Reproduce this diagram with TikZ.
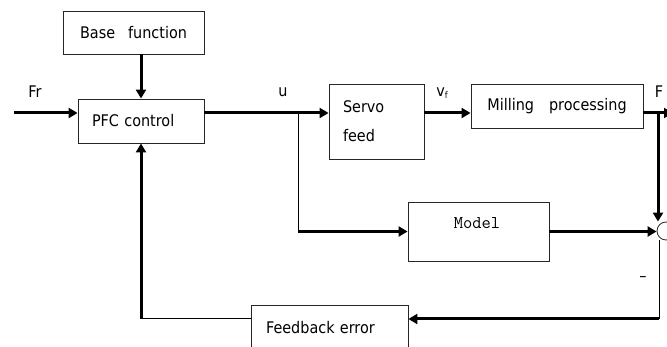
\documentclass[tikz,border=0pt]{standalone}
\usepackage{fontspec}
\setmainfont{DejaVu Sans}[FakeStretch=0.9]
\usetikzlibrary{arrows.meta}

\begin{document}
\begin{tikzpicture}[x=1pt, y=-1pt,
    font=\fontsize{16}{19}\selectfont,
    block/.style={draw=black!85, line width=0.9pt, inner sep=0pt},
    flow/.style={line width=3pt, -{Triangle[length=9pt,width=10pt]}},
    thinwire/.style={line width=1pt}]
    \path[use as bounding box] (0,0) rectangle (667,347);
    \clip (0,0) rectangle (667,347);

    % Blocks
    \node[block, minimum width=141pt, minimum height=43pt] (base) at (133.5,32.5) {Base\hspace{13pt}function};
    \node[block, minimum width=126pt, minimum height=44pt, text width=98pt, inner xsep=14pt, align=left] (pfc) at (141,121) {PFC control};
    \node[block, minimum width=95pt, minimum height=75pt, text width=67pt, inner xsep=14pt, align=left,
          font=\fontsize{16}{29}\selectfont] (servo) at (376.5,121.5) {Servo\\feed};
    \node[block, minimum width=172pt, minimum height=44pt] (mill) at (557,106) {Milling\hspace{15pt}processing};
    \node[block, minimum width=141pt, minimum height=59pt] (model) at (478.5,231.5) {};
    \node[font=\ttfamily\fontsize{18}{20}\selectfont] (modeltext) at (477,223) {Model};
    \node[block, minimum width=157pt, minimum height=46pt, text width=127pt, inner xsep=15pt, align=left] (fb) at (329.5,328) {Feedback error};
    \node[draw=black!85, line width=0.8pt, circle, minimum size=18pt, inner sep=0pt] (sum) at (666,231) {};

    % Signal labels
    \node (frlabel) at (35,92) {Fr};
    \node (ulabel) at (283,92) {u};
    \node (vflabel) at (442,93) {v\raisebox{-2pt}{\fontsize{9}{9}\selectfont f}};
    \node (flabel) at (659,92) {F};
    \node (minus) at (643,279) {–};

    % Branch points
    \coordinate (in) at (14,113);
    \coordinate (ubranch) at (298,113);
    \coordinate (fbranch) at (658,113);
    \coordinate (out) at (673,113);
    \coordinate (errline) at (659,319);

    % Forward path
    \draw[flow] (in) -- (pfc.west |- in);
    \draw[flow] (pfc.north |- base.south) -- (pfc.north);
    \draw[flow] (pfc.east |- in) -- (servo.west |- in);
    \draw[flow] (servo.east |- in) -- (mill.west |- in);
    \draw[flow] (mill.east |- in) -- (out);

    % Model branch
    \draw[thinwire] (ubranch) -- (ubranch |- model.west);
    \draw[flow] (ubranch |- model.west) -- (model.west);
    \draw[flow] (fbranch) -- (fbranch |- sum.north);
    \draw[flow] (model.east) -- (sum.west |- model.east);

    % Feedback path
    \draw[thinwire] (errline |- sum.south) -- (errline);
    \draw[flow] (errline) -- (fb.east |- errline);
    \draw[thinwire] (fb.west |- errline) -- (pfc.south |- errline);
    \draw[flow] (pfc.south |- errline) -- (pfc.south);
\end{tikzpicture}
\end{document}
